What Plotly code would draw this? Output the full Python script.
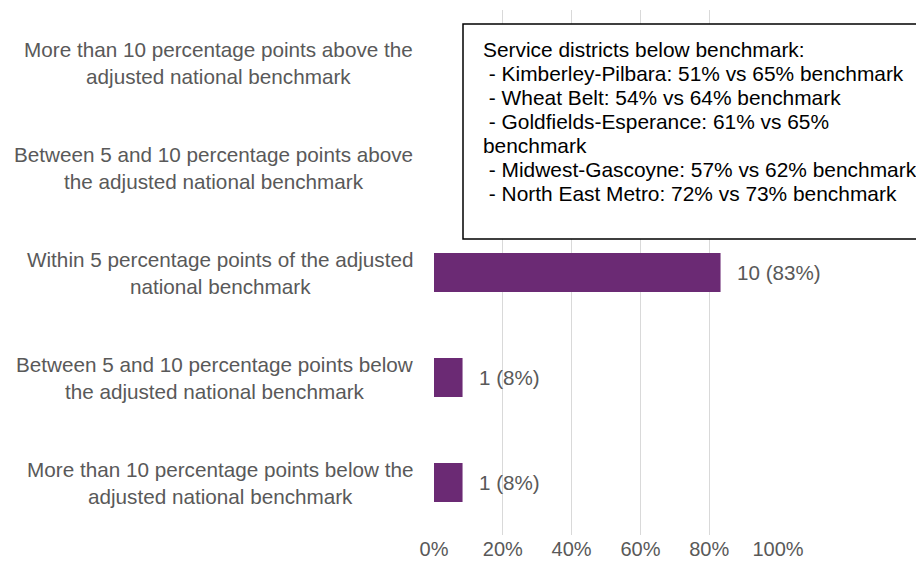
import plotly.graph_objects as go

categories = [
    "More than 10 percentage points above the<br>adjusted national benchmark",
    "Between 5 and 10 percentage points above<br>the adjusted national benchmark",
    "Within 5 percentage points of the adjusted<br>national benchmark",
    "Between 5 and 10 percentage points below<br>the adjusted national benchmark",
    "More than 10 percentage points below the<br>adjusted national benchmark",
]
shares = [0.0, 0.0, 0.833, 0.083, 0.083]
bar_labels = ["", "", "10 (83%)", "1 (8%)", "1 (8%)"]
x_ticks = [0, 0.2, 0.4, 0.6, 0.8, 1.0]
x_tick_labels = ["0%", "20%", "40%", "60%", "80%", "100%"]
box_lines = [
    "Service districts below benchmark:",
    " - Kimberley-Pilbara: 51% vs 65% benchmark",
    " - Wheat Belt: 54% vs 64% benchmark",
    " - Goldfields-Esperance: 61% vs 65%",
    "benchmark",
    " - Midwest-Gascoyne: 57% vs 62% benchmark",
    " - North East Metro: 72% vs 73% benchmark",
]

FONT = "Liberation Sans, Arial, sans-serif"
GREY = "#595959"
PURPLE = "#6B2A74"

# page body has an 8px margin; plot area in page px: x 434..778, y 10..535
W, H = 916, 561
L, T, PW, PH = 426, 2, 344, 525
def px(xp):
    return (xp - 8 - L) / PW
def py(yp):
    return (T + PH - (yp - 8)) / PH

fig = go.Figure()
fig.add_trace(go.Bar(
    x=shares, y=categories, orientation="h",
    marker=dict(color=PURPLE, line=dict(width=0)),
    width=0.37, hoverinfo="skip",
))

annotations = []
for cat in categories:
    annotations.append(dict(
        x=0, xref="paper", y=cat, yref="y", xanchor="right", yanchor="middle",
        xshift=-19, text=cat, align="center", showarrow=False,
        font=dict(family=FONT, size=20.7, color=GREY),
    ))
for cat, v, lab in zip(categories, shares, bar_labels):
    if lab:
        annotations.append(dict(
            x=v, xref="x", y=cat, yref="y", xanchor="left", yanchor="middle",
            xshift=14, text=lab, showarrow=False,
            font=dict(family=FONT, size=20.6, color=GREY),
        ))
for i, line in enumerate(box_lines):
    annotations.append(dict(
        x=px(481), xref="paper", y=py(49), yref="paper",
        xanchor="left", yanchor="middle", yshift=-24 * i,
        text=line.replace(" ", "&nbsp;") if line.startswith(" ") else line,
        showarrow=False, align="left",
        font=dict(family=FONT, size=20.9, color="#000000"),
    ))

fig.add_shape(
    type="rect", xref="paper", yref="paper",
    x0=px(463), x1=px(1200),
    y0=py(239), y1=py(24),
    line=dict(color="#000000", width=1.5), fillcolor="white", layer="above",
)

fig.update_layout(
    width=W, height=H,
    margin=dict(l=L, r=W - L - PW, t=T, b=H - T - PH),
    paper_bgcolor="white", plot_bgcolor="white",
    showlegend=False,
    annotations=annotations,
    font=dict(family=FONT, size=20, color=GREY),
)
fig.update_xaxes(
    range=[0, 1.0], tickvals=x_ticks, ticktext=x_tick_labels,
    showgrid=True, gridcolor="#D9D9D9", gridwidth=1.3, zeroline=False,
    showline=False, ticks="", tickfont=dict(family=FONT, size=20, color=GREY),
    fixedrange=True,
)
fig.update_yaxes(
    autorange="reversed", showticklabels=False, showgrid=False,
    zeroline=False, showline=False, ticks="", fixedrange=True,
)

fig.write_html("out.html")
